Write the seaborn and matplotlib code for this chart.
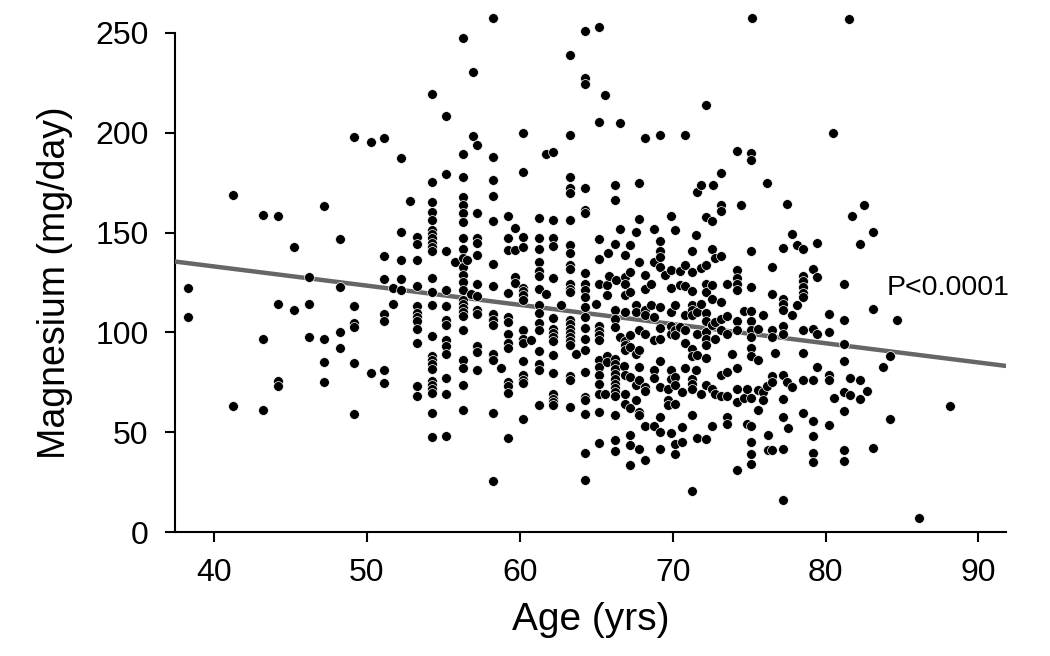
import matplotlib
matplotlib.use("Agg")
import matplotlib.pyplot as plt
import seaborn as sns
import pandas as pd

# ---- data (age column -> magnesium values) ----
column_age = [38.28, 41.24, 43.2, 44.2, 45.25, 46.2, 47.2, 48.26, 49.17, 50.28,
              51.1, 51.68, 52.22, 52.81, 53.27, 54.23, 55.2, 55.75, 56.27, 56.53,
              56.8, 56.93, 57.19, 58.26, 58.78, 59.2, 59.69, 60.18, 60.72, 61.24,
              61.72, 62.18, 62.72, 63.29, 63.68, 64.25, 65.0, 65.19, 65.6, 65.73,
              65.77, 65.83, 66.21, 66.3, 66.54, 66.8, 66.9, 67.2, 67.6, 67.82,
              68.17, 68.56, 68.6, 68.78, 69.2, 69.5, 69.67, 69.87, 70.15, 70.5,
              70.63, 70.82, 71.24, 71.5, 71.6, 71.88, 72.18, 72.55, 72.66, 72.8,
              73.18, 73.54, 73.9, 74.18, 74.47, 74.66, 74.88, 75.14, 75.2, 75.58,
              75.9, 76.2, 76.26, 76.49, 76.67, 77.19, 77.5, 77.54, 77.8, 78.13,
              78.5, 79.2, 79.46, 80.2, 80.5, 80.54, 81.2, 81.52, 81.58, 81.74,
              82.22, 82.5, 82.68, 83.12, 83.77, 84.2, 84.68, 86.14, 88.17]

column_mg = [
    [122, 107.7],
    [169, 63],
    [158.8, 96.5, 61],
    [158.3, 114, 75.7, 73],
    [143, 111.3],
    [128, 114.2, 97.8],
    [163.3, 96.5, 85, 75],
    [146.8, 122.7, 100.3, 92.3],
    [197.7, 113.2, 104.8, 102.7, 84.5, 59.2],
    [195.5, 79.7],
    [197.3, 138.5, 127, 109.3, 105.7, 81, 74.8],
    [122.3, 114],
    [187.2, 150.5, 136.3, 126.8, 121.3],
    [166],
    [147.7, 144.3, 136.3, 123.2, 113.2, 109.7, 107.7, 105.7, 101.8, 94.7, 73.2, 68.3],
    [219.2, 175.3, 165.5, 160.5, 156.3, 151.5, 149.3, 147.2, 144.8, 142.7, 140.7, 127.3,
     120.2, 113.5, 98, 88, 86.3, 84.3, 81.5, 75.5, 73.5, 71.5, 69.7, 59.7, 47.7],
    [208.5, 179.2, 141, 121.3, 113, 106.3, 103.5, 96, 93, 89.3, 77.3, 69, 48.3],
    [135.2],
    [247.5, 189.2, 177.7, 167.7, 164, 159.8, 155.2, 147.3, 141.8, 137.3, 133, 129,
     125.2, 121.3, 116.3, 114.3, 112.3, 110.2, 108, 101, 86, 82.3, 73.5, 61],
    [136.5],
    [119],
    [230.5, 198.5],
    [193.7, 160, 147.3, 144.8, 138.8, 124.3, 118, 111.3, 109.3, 93, 90.2, 81],
    [257.7, 188, 176.2, 168.3, 156, 134.3, 123.2, 109, 106.3, 103.5, 89.3, 86, 59.7, 25.7],
    [82.3],
    [158.5, 147.2, 141.3, 119.7, 107.7, 105.2, 99, 94.7, 92.3, 75.2, 73, 69.7, 47.3],
    [152.2, 141.3, 127.7, 124.8],
    [199.7, 180.2, 148, 143, 122.3, 120.7, 118.5, 116.3, 101.3, 96.8, 94.7, 85.7,
     78.5, 76.3, 74.7, 56.8],
    [96.3],
    [157.5, 147.2, 141.8, 135.2, 130.7, 128.3, 121.5, 113.5, 109.7, 104.7, 101, 90.7,
     84.3, 81.3, 63.8],
    [189.2, 119],
    [190.2, 156.5, 147.3, 143.2, 127.2, 107.3, 101.8, 99.7, 97.7, 95.7, 88.8, 79.8,
     69, 66.8, 65.2, 63.5],
    [113.8],
    [239, 199, 178, 172.2, 169.7, 156.5, 143.8, 139.8, 133.8, 131.8, 124.3, 121.8,
     120.2, 106, 104, 101.8, 99.7, 97.7, 95.5, 93.5, 78, 76, 62.7],
    [89],
    [250.8, 227.3, 224.3, 172.5, 161.5, 159.7, 129.7, 124.3, 121.3, 117.7, 112.7,
     107.7, 102.3, 96.8, 91, 80.3, 67.7, 66, 59, 39.5, 26.3],
    [114],
    [253, 205.5, 146.8, 136.8, 124, 103, 100.7, 98.5, 96, 86, 82.7, 78.5, 74, 69.3,
     60.2, 44.7],
    [218.8, 69],
    [123.5, 118.5, 88, 85.2],
    [140],
    [128.3],
    [173.7, 166.2, 144.3, 111.3, 106.8, 102.7, 86.8, 84.3, 81.8, 79.3, 76.8, 74.3,
     72.3, 70.2, 68.2, 58.5, 46.3, 40.7],
    [126.3],
    [204.8, 151.7, 97.7],
    [83],
    [138.8, 128, 124.3, 118.5, 110.2, 95.7, 93.5, 91, 78.5, 69.3, 64],
    [144, 130.2, 120.2, 98.5, 92.7, 77.7, 62.3, 48.5, 43.8, 33.8],
    [150.2, 113.8, 110.2, 89.3, 73.5, 66],
    [174.7, 156.8, 135.2, 101, 91, 82.7, 76.3, 60.2, 58.8, 41.8],
    [197.2, 129, 121.8, 111.3, 108.5, 99.3, 72.7, 70.7, 53.2, 36.3],
    [124.3],
    [113.5],
    [151.8, 135.2, 107.7, 96, 81.3, 77.3, 53.2],
    [198.8, 146, 140.7, 138, 133, 112.7, 102.3, 96.8, 85.7, 72.7, 57.7, 50.2, 41.8],
    [129],
    [71.8, 66, 63.5],
    [158.2, 131.3, 122.3, 110.2, 103, 99, 81.3, 76.8, 49.7],
    [151.3, 113.8, 101.3, 98.5, 77.7, 73.5, 64.3, 44.3, 39.3],
    [131, 123.5, 102.7],
    [70.2, 52.7, 45.2],
    [198.8, 134, 123, 108.5, 101, 94.7, 82.2],
    [140.8, 130.2, 120.7, 113.8, 111.3, 108.5, 91.8, 88, 76.8, 74.3, 71.8, 58.5, 20.7],
    [149, 81],
    [170.5, 110.2, 99.3, 88.5, 47.2],
    [174, 132.2, 114.3, 69.3],
    [213.7, 157.7, 134, 124.3, 120.2, 109.7, 105.7, 100.2, 96.8, 93.5, 87.3, 73.5, 46.8],
    [155.7, 141.8, 123.5, 116.8, 103.5, 71.8, 53],
    [173.7],
    [137.3, 105.2, 96.8, 69.3],
    [179.7, 163.7, 160.7, 138.3, 115.2, 106.8, 101, 78.5, 68],
    [124.3, 108, 99.3, 80.2, 68, 57.7, 54.3],
    [89],
    [190.7, 131.3, 127.3, 124.3, 121, 105.7, 101.3, 82.3, 71.8, 65.2, 31],
    [163.7],
    [110.5, 67.3],
    [71.8, 54],
    [190, 186.5, 140.8, 122.7, 110.5, 105.7, 101, 97.7, 92.3, 88, 67.2, 53, 45.2,
     39.3, 34.3],
    [257.7],
    [101.8, 86, 71, 61],
    [108.8, 70.2, 66],
    [174.8, 73],
    [48.5, 41.3],
    [132.7, 119, 101, 97.7, 78, 75.2, 41],
    [89.7],
    [142.3, 116.8, 114.3, 111.3, 103, 99.3, 78.5, 66.8, 57.7, 41.8, 16],
    [164.5, 75.2],
    [52.3],
    [149.3, 108.8, 72.7],
    [144, 113.5],
    [141.8, 128.3, 126, 122.7, 119.7, 117.7, 101, 89.7, 76.3, 59.7],
    [131.7, 101.8, 76.3, 55.7, 48.2, 39.8, 35.2],
    [145, 127.7, 99, 82.7],
    [109.3, 100.2, 78.5, 76, 53.5],
    [199.8],
    [67.3],
    [124.3, 106.3, 94, 85.7, 70.2, 60.7, 41, 35.8],
    [256.8],
    [77.2, 68.5],
    [158.5],
    [144.3, 76.3, 66.8],
    [163.8],
    [70.7],
    [150.5, 111.8, 42.3],
    [82.7],
    [88, 56.5],
    [106],
    [6.8],
    [63],
]

# regression line (end points as drawn in the reference)
fit_age = [37.45, 91.8]
fit_mg = [135.5, 83.2]

x_ticks = [40, 50, 60, 70, 80, 90]
y_ticks = [0, 50, 100, 150, 200, 250]
p_label = "P<0.0001"

# ---- build tidy frame ----
rows_age, rows_mg = [], []
for a, vals in zip(column_age, column_mg):
    for v in vals:
        rows_age.append(a)
        rows_mg.append(v)
df = pd.DataFrame({"Age": rows_age, "Magnesium": rows_mg})
fit_df = pd.DataFrame({"Age": fit_age, "Magnesium": fit_mg})

sns.set_style("ticks")
plt.rcParams["font.family"] = ["Liberation Sans", "DejaVu Sans"]
for k in ["text.color", "axes.labelcolor", "xtick.color", "ytick.color"]:
    plt.rcParams[k] = "black"

fig = plt.figure(figsize=(10.5, 6.56), dpi=100)
ax = fig.add_axes([175 / 1050, 124 / 656, 831 / 1050, 499 / 656])

sns.lineplot(data=fit_df, x="Age", y="Magnesium", ax=ax, color="#666666",
             linewidth=3.2, zorder=3)
sns.scatterplot(data=df, x="Age", y="Magnesium", ax=ax, color="black",
                edgecolor="white", linewidth=0.5, s=50, zorder=4, clip_on=False)

ax.set_xlim(37.45, 91.8)
ax.set_ylim(0, 250)
ax.set_xticks(x_ticks)
ax.set_yticks(y_ticks)
ax.tick_params(axis="both", labelsize=23, length=7, width=1.5, color="black",
               labelcolor="black", direction="out")
ax.tick_params(axis="x", pad=12)
ax.tick_params(axis="y", pad=12)
for s in ["top", "right"]:
    ax.spines[s].set_visible(False)
for s in ["left", "bottom"]:
    ax.spines[s].set_linewidth(1.5)
    ax.spines[s].set_color("black")

ax.set_xlabel("Age (yrs)", fontsize=28, labelpad=10, color="black")
ax.set_ylabel("Magnesium (mg/day)", fontsize=27, labelpad=16, color="black")

ax.text(84.0, 122, p_label, fontsize=20.5, ha="left", va="center", color="black")

fig.savefig("out.png", dpi=100, facecolor="white")
